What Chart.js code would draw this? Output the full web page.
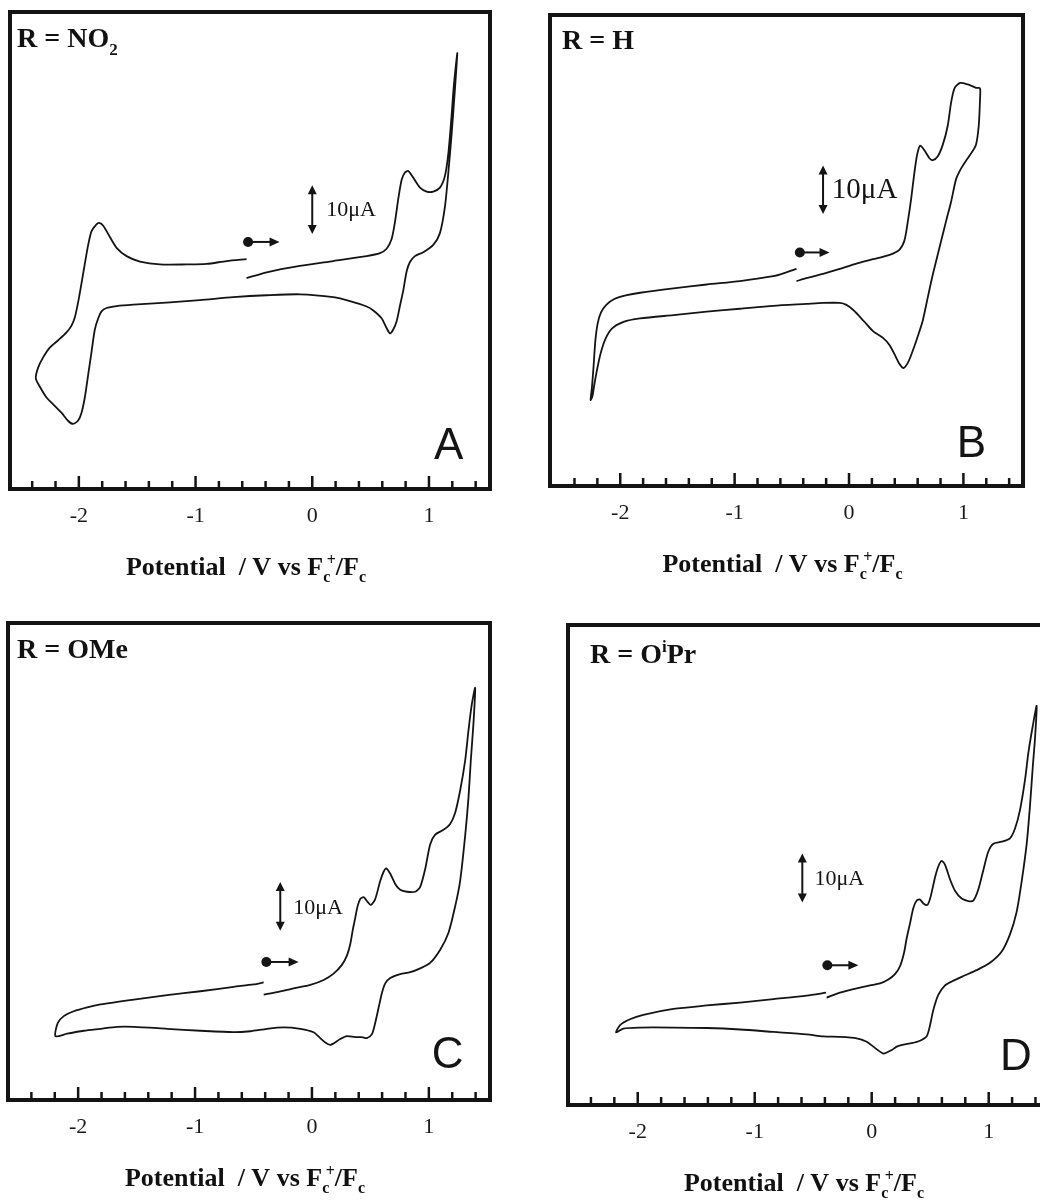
<!DOCTYPE html>
<html><head><meta charset="utf-8">
<script src="https://cdn.jsdelivr.net/npm/chart.js@4.4.1/dist/chart.umd.min.js"></script>
<style>
html,body{margin:0;padding:0;background:#fff;}
body{width:1040px;height:1200px;overflow:hidden;position:relative;}
.panel{position:absolute;}
canvas{display:block;}
</style></head><body>
<div class="panel" id="pA"><canvas id="cA"></canvas></div>
<div class="panel" id="pB"><canvas id="cB"></canvas></div>
<div class="panel" id="pC"><canvas id="cC"></canvas></div>
<div class="panel" id="pD"><canvas id="cD"></canvas></div>
<script>
// ---------- data (potential in V vs Fc+/Fc, current in µA, relative) ----------
const tickValues = [-2, -1, 0, 1];
const minorTickValues = [-2.4, -2.2, -1.8, -1.6, -1.4, -1.2, -0.8, -0.6, -0.4, -0.2, 0.2, 0.4, 0.6, 0.8, 1.2, 1.4];
const axisTitle = 'Potential  / V vs Fc+/Fc';

const potA = [-0.563,-0.391,-0.106,0.180,0.466,0.580,0.637,0.680,0.709,0.737,0.766,0.794,0.823,0.866,0.923,0.980,1.037,1.094,1.137,1.166,1.194,1.214,1.243,
 1.223,1.194,1.166,1.137,1.094,1.037,0.951,0.880,0.837,0.809,0.780,0.751,0.723,0.694,0.666,0.637,0.594,0.523,0.466,0.323,0.180,-0.106,-0.391,-0.677,-0.963,-1.249,-1.534,-1.677,-1.763,-1.806,-1.834,-1.863,-1.891,-1.920,-1.949,-1.977,-2.006,-2.049,-2.091,-2.149,-2.220,-2.277,-2.329,-2.369,
 -2.349,-2.306,-2.249,-2.177,-2.106,-2.063,-2.034,-2.006,-1.977,-1.949,-1.920,-1.891,-1.849,-1.826,-1.791,-1.734,-1.677,-1.591,-1.477,-1.306,-1.077,-0.906,-0.734,-0.563];
const curA = [43.1,44.3,45.6,46.6,47.6,48.2,49.1,51.1,54.6,59.3,63.2,64.7,65.0,63.6,61.6,60.8,60.8,61.6,64.0,68.6,76.4,82.7,89.1,
 81.9,72.5,64.7,57.7,52.3,49.9,48.4,47.6,46.4,44.5,40.6,37.4,34.3,32.6,31.8,32.9,34.9,36.5,37.3,38.4,39.2,39.8,39.6,39.2,38.6,38.1,37.7,37.4,37.0,36.3,34.9,32.6,28.1,23.4,18.7,15.6,14.0,13.3,13.9,15.6,17.3,18.7,20.7,22.6,
 24.8,26.9,28.9,30.4,32.0,33.4,35.1,38.2,42.1,46.0,49.9,52.7,54.1,54.4,53.8,51.5,49.3,47.6,46.5,45.9,45.9,46.0,46.6,47.0];

const potB = [-0.459,-0.372,-0.227,-0.081,0.064,0.209,0.355,0.442,0.485,0.515,0.544,0.573,0.596,0.622,0.660,0.703,0.733,0.776,0.820,0.863,0.892,0.922,0.971,1.038,1.110,1.145,
 1.145,1.134,1.110,1.067,1.023,0.980,0.936,0.892,0.849,0.791,0.733,0.689,0.645,0.602,0.558,0.515,0.477,0.442,0.407,0.355,0.297,0.209,0.151,0.093,0.035,-0.023,-0.081,-0.227,-0.372,-0.663,-0.953,-1.244,-1.535,-1.826,-1.971,-2.073,-2.131,-2.174,-2.203,-2.227,-2.244,-2.259,
 -2.247,-2.233,-2.218,-2.198,-2.169,-2.122,-2.052,-1.942,-1.826,-1.535,-1.244,-0.953,-0.663,-0.547,-0.459];
const curB = [42.2,42.8,43.7,44.7,45.8,46.7,47.6,48.7,50.6,54.6,59.3,64.8,68.3,70.1,69.1,67.5,67.1,67.9,70.3,74.2,78.9,81.9,83.0,82.7,82.0,81.9,
 79.5,74.2,70.3,68.5,67.0,65.4,63.2,58.5,54.6,49.1,43.6,38.9,34.1,30.9,27.9,25.4,24.3,25.1,26.7,29.0,30.5,31.9,33.4,34.9,36.3,37.3,37.7,37.7,37.5,37.1,36.5,35.9,35.2,34.5,33.8,32.4,30.2,27.1,23.9,20.8,18.4,17.7,
 20.4,24.7,29.8,33.4,35.7,37.3,38.5,39.3,39.8,40.7,41.5,42.2,43.2,44.0,44.7];

const potC = [-0.413,-0.299,-0.157,-0.014,0.100,0.185,0.256,0.299,0.328,0.350,0.370,0.390,0.413,0.442,0.470,0.504,0.541,0.584,0.613,0.635,0.670,0.712,0.755,0.812,0.883,0.926,0.969,1.011,1.054,1.125,1.182,1.225,1.268,1.311,1.339,1.368,1.396,
 1.382,1.359,1.339,1.311,1.268,1.225,1.168,1.097,1.011,0.926,0.840,0.755,0.670,0.627,0.598,0.570,0.541,0.513,0.470,0.427,0.370,0.299,0.242,0.185,0.157,0.114,0.071,0.014,-0.100,-0.242,-0.385,-0.527,-0.670,-0.954,-1.239,-1.524,-1.667,-1.809,-1.952,-2.094,-2.194,
 -2.174,-2.123,-2.037,-1.923,-1.809,-1.524,-1.239,-0.954,-0.670,-0.499,-0.413];
const curC = [21.6,22.1,22.9,23.6,24.6,25.9,27.7,29.6,32.0,35.0,37.3,39.7,41.2,41.6,40.8,40.0,41.2,44.9,46.8,47.5,46.4,44.3,43.1,42.7,42.7,43.7,47.4,52.4,54.4,55.4,56.6,58.9,63.5,69.7,75.8,81.2,84.5,
 77.4,69.7,62.0,54.3,45.0,39.7,34.3,30.8,28.1,27.0,26.2,25.8,25.0,23.9,21.9,18.9,15.8,13.5,12.7,12.9,12.9,13.1,12.5,11.6,11.3,11.8,12.7,13.9,14.6,14.9,14.6,14.1,13.9,14.2,14.6,15.0,15.0,14.6,14.2,13.6,13.1,
 15.8,17.2,18.2,19.0,19.6,20.6,21.5,22.3,23.2,23.7,24.1];

const potD = [-0.385,-0.271,-0.128,-0.014,0.071,0.142,0.199,0.242,0.276,0.299,0.328,0.356,0.385,0.413,0.442,0.476,0.504,0.541,0.570,0.598,0.627,0.670,0.712,0.769,0.826,0.869,0.912,0.954,0.997,1.040,1.111,1.182,1.225,1.268,1.311,1.339,1.376,1.410,
 1.396,1.376,1.353,1.325,1.282,1.239,1.182,1.111,1.011,0.897,0.783,0.684,0.627,0.570,0.527,0.499,0.470,0.413,0.342,0.271,0.214,0.171,0.128,0.100,0.057,0.014,-0.043,-0.128,-0.271,-0.413,-0.556,-0.840,-1.125,-1.410,-1.695,-1.980,-2.123,-2.185,
 -2.151,-2.066,-1.952,-1.695,-1.410,-1.125,-0.840,-0.556,-0.390];
const curD = [21.9,22.9,23.8,24.4,24.8,25.6,26.7,28.3,31.0,34.0,37.1,40.2,41.7,41.9,41.1,40.8,42.5,46.4,48.7,49.8,49.0,46.0,43.7,42.1,41.6,41.7,44.0,47.9,51.7,53.3,53.7,54.4,56.4,60.2,66.4,71.8,77.2,81.4,
 74.8,68.7,61.0,53.3,45.6,39.4,34.8,31.3,29.0,27.5,26.3,25.2,24.4,22.5,19.4,16.3,14.0,13.1,12.6,12.3,11.9,11.2,10.7,10.5,11.1,11.9,12.9,13.6,13.9,14.0,14.4,14.9,15.4,15.7,15.8,15.8,15.6,14.8,
 16.3,17.5,18.4,19.6,20.3,20.9,21.6,22.3,22.9];

const scaleBarLabel = '10\u03bcA';
const scaleBarSize = 10; // µA

// ---------- layout / styling ----------
const SERIF = "'Liberation Serif','Times New Roman',serif";
const SANS = "'Liberation Sans',Arial,sans-serif";
const INK = '#141414';
const PAD = 10, AXIS_H = 110;

const panels = [
  { div:'pA', cv:'cA', pot:potA, cur:curA, box:{left:10, top:12, w:480, h:477}, xr:[-2.590, 1.523], ymax:97.5,
    label:[{t:'R = NO'},{t:'2',sub:true}], labelOff:[7,35], letter:'A', letterAt:[1.294, 6.2],
    bar:{x:0.0, y:52.1, tx:0.12, ty:57.0, font:22}, start:{x:-0.55, y:50.5, x2:-0.28} },
  { div:'pB', cv:'cB', pot:potB, cur:curB, box:{left:550, top:15, w:473, h:471}, xr:[-2.614, 1.521], ymax:97.0,
    label:[{t:'R = H'}], labelOff:[12,34], letter:'B', letterAt:[1.198, 5.9],
    bar:{x:-0.227, y:56.0, tx:-0.15, ty:60.8, font:29}, start:{x:-0.43, y:48.1, x2:-0.17} },
  { div:'pC', cv:'cC', pot:potC, cur:curC, box:{left:8, top:623, w:482, h:477}, xr:[-2.600, 1.523], ymax:97.8,
    label:[{t:'R = OMe'}], labelOff:[9,35], letter:'C', letterAt:[1.296, 6.5],
    bar:{x:-0.271, y:34.7, tx:-0.16, ty:39.3, font:22}, start:{x:-0.39, y:28.3, x2:-0.114} },
  { div:'pD', cv:'cD', pot:potD, cur:curD, box:{left:568, top:625, w:480, h:480}, xr:[-2.596, 1.507], ymax:97.9,
    label:[{t:'R = O'},{t:'i',sup:true},{t:'Pr'}], labelOff:[22,38], letter:'D', letterAt:[1.368, 7.1],
    bar:{x:-0.593, y:41.3, tx:-0.49, ty:46.0, font:22}, start:{x:-0.379, y:28.5, x2:-0.114} }
];

function drawRich(ctx, parts, x, y, size, weight, family, align) {
  const bigF = `${weight} ${size}px ${family}`;
  const smallF = `${weight} ${Math.round(size * 0.62)}px ${family}`;
  let cursor = 0, prevStart = 0, prevW = 0;
  const laid = [];
  for (const p of parts) {
    const f = (p.sub || p.sup) ? smallF : bigF;
    ctx.font = f;
    const w = ctx.measureText(p.t).width;
    const sx = p.stack ? prevStart + prevW * 0.5 : cursor;
    laid.push({ p, f, sx });
    prevStart = sx; prevW = w;
    cursor = Math.max(cursor, sx + w);
  }
  const x0 = align === 'center' ? x - cursor / 2 : x;
  ctx.textAlign = 'left';
  ctx.textBaseline = 'alphabetic';
  for (const l of laid) {
    ctx.font = l.f;
    let dy = 0;
    if (l.p.sub) dy = size * 0.28;
    if (l.p.sup) dy = -size * 0.40;
    ctx.fillText(l.p.t, x0 + l.sx, y + dy);
  }
}

const titleParts = [{t:'Potential  / V vs F'},{t:'c',sub:true},{t:'+',sup:true,stack:true},{t:'/F'},{t:'c',sub:true}];

function makeDecor(cfg) {
  return {
    id: 'cvDecor' + cfg.letter,
    afterDraw(chart) {
      const { ctx, chartArea: a, scales: { x, y } } = chart;
      ctx.save();
      ctx.fillStyle = INK; ctx.strokeStyle = INK;
      // frame
      ctx.lineWidth = 4;
      ctx.strokeRect(a.left, a.top, a.right - a.left, a.bottom - a.top);
      // inward ticks
      ctx.lineWidth = 2.5;
      const all = minorTickValues.map(v => [v, 8]).concat(tickValues.map(v => [v, 13]));
      for (const [v, len] of all) {
        const px = x.getPixelForValue(v);
        if (px < a.left + 2 || px > a.right - 2) continue;
        ctx.beginPath(); ctx.moveTo(px, a.bottom); ctx.lineTo(px, a.bottom - len); ctx.stroke();
      }
      // panel label
      ctx.fillStyle = '#111';
      drawRich(ctx, cfg.label, a.left + cfg.labelOff[0], a.top + cfg.labelOff[1], 28, 'bold', SERIF, 'left');
      // axis title
      drawRich(ctx, titleParts, (a.left + a.right) / 2 - 4, a.bottom + 86, 26, 'bold', SERIF, 'center');
      // big letter
      ctx.fillStyle = INK;
      ctx.font = `44px ${SANS}`;
      ctx.textAlign = 'right'; ctx.textBaseline = 'alphabetic';
      ctx.fillText(cfg.letter, x.getPixelForValue(cfg.letterAt[0]), y.getPixelForValue(cfg.letterAt[1]));
      // scale bar (10 µA)
      const b = cfg.bar;
      const bx = x.getPixelForValue(b.x);
      const yb = y.getPixelForValue(b.y), yt = y.getPixelForValue(b.y + scaleBarSize);
      ctx.lineWidth = 2;
      ctx.beginPath(); ctx.moveTo(bx, yt + 6); ctx.lineTo(bx, yb - 6); ctx.stroke();
      ctx.beginPath(); ctx.moveTo(bx, yt); ctx.lineTo(bx - 4.5, yt + 9); ctx.lineTo(bx + 4.5, yt + 9); ctx.closePath(); ctx.fill();
      ctx.beginPath(); ctx.moveTo(bx, yb); ctx.lineTo(bx - 4.5, yb - 9); ctx.lineTo(bx + 4.5, yb - 9); ctx.closePath(); ctx.fill();
      ctx.font = `${b.font}px ${SERIF}`;
      ctx.textAlign = 'left'; ctx.textBaseline = 'middle';
      ctx.fillText(scaleBarLabel, x.getPixelForValue(b.tx), y.getPixelForValue(b.ty));
      // start point + scan direction arrow
      const s = cfg.start;
      const sx = x.getPixelForValue(s.x), sy = y.getPixelForValue(s.y), ex = x.getPixelForValue(s.x2);
      ctx.beginPath(); ctx.arc(sx, sy, 5, 0, Math.PI * 2); ctx.fill();
      ctx.lineWidth = 2;
      ctx.beginPath(); ctx.moveTo(sx, sy); ctx.lineTo(ex - 8, sy); ctx.stroke();
      ctx.beginPath(); ctx.moveTo(ex, sy); ctx.lineTo(ex - 10, sy - 4.5); ctx.lineTo(ex - 10, sy + 4.5); ctx.closePath(); ctx.fill();
      ctx.restore();
    }
  };
}

for (const p of panels) {
  const div = document.getElementById(p.div);
  const cv = document.getElementById(p.cv);
  const W = p.box.w + 2 * PAD, H = p.box.h + PAD + AXIS_H;
  div.style.left = (p.box.left - PAD) + 'px';
  div.style.top = (p.box.top - PAD) + 'px';
  cv.width = W; cv.height = H;
  cv.style.width = W + 'px'; cv.style.height = H + 'px';
  const n = Math.min(p.pot.length, p.cur.length);
  const pts = [];
  for (let i = 0; i < n; i++) pts.push({ x: p.pot[i], y: p.cur[i] });
  new Chart(cv, {
    type: 'scatter',
    data: { datasets: [{ data: pts, showLine: true, borderColor: INK, borderWidth: 1.8,
      pointRadius: 0, pointHoverRadius: 0, tension: 0.25, fill: false }] },
    options: {
      responsive: false, animation: false, events: [],
      layout: { padding: { left: PAD, right: PAD, top: PAD, bottom: 0 } },
      plugins: { legend: { display: false }, tooltip: { enabled: false } },
      scales: {
        x: { type: 'linear', min: p.xr[0], max: p.xr[1],
          grid: { display: false, drawTicks: false }, border: { display: false },
          afterBuildTicks: ax => { ax.ticks = tickValues.map(v => ({ value: v })); },
          afterFit: ax => { ax.height = AXIS_H; },
          ticks: { font: { family: SERIF, size: 22 }, color: '#1a1a1a', padding: 14, maxRotation: 0, autoSkip: false } },
        y: { type: 'linear', display: false, min: 0, max: p.ymax }
      }
    },
    plugins: [makeDecor(p)]
  });
}
</script>
</body></html>
